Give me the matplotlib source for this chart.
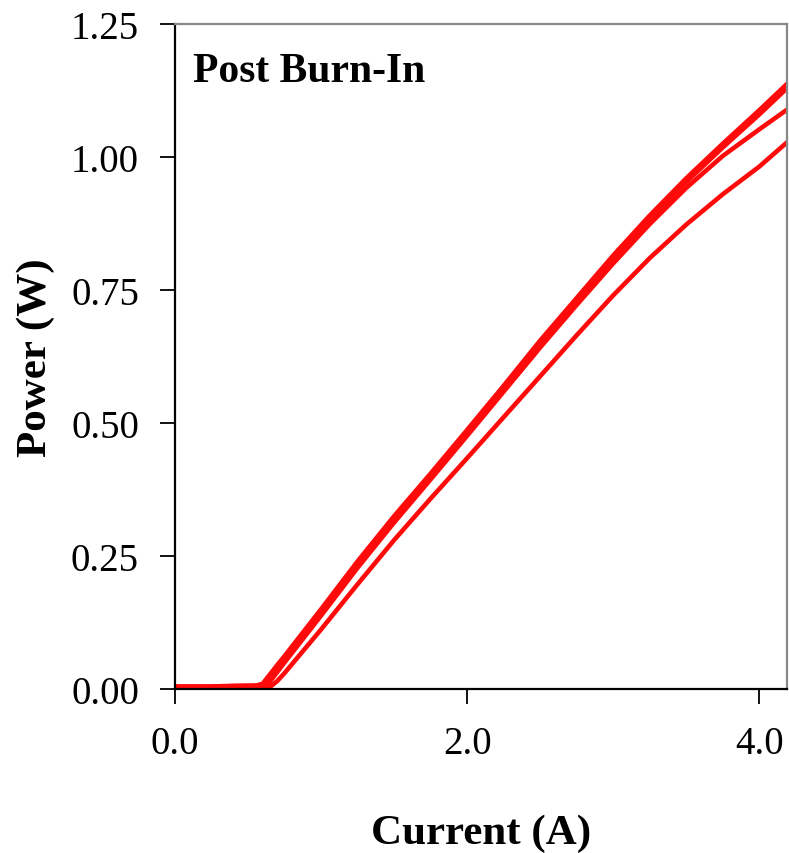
import matplotlib.pyplot as plt
import numpy as np

plt.rcParams['font.family'] = ['Liberation Serif', 'DejaVu Serif']

# L-I curves after burn-in (current in A, optical power in W)
current_a = [0.0, 0.25, 0.55, 0.60, 0.70, 0.75, 1.0, 1.25, 1.5, 1.75, 2.0, 2.25,
             2.5, 2.75, 3.0, 3.25, 3.5, 3.75, 4.0, 4.2]
power_a = [0.005, 0.005, 0.006, 0.010, 0.045, 0.062, 0.150, 0.240, 0.325, 0.405,
           0.487, 0.570, 0.655, 0.735, 0.815, 0.890, 0.960, 1.025, 1.088, 1.140]

current_b = [0.25, 0.58, 0.63, 0.70, 0.75, 1.0, 1.25, 1.5, 1.75, 2.0, 2.25,
             2.5, 2.75, 3.0, 3.25, 3.5, 3.75, 4.0, 4.2]
power_b = [0.005, 0.006, 0.012, 0.038, 0.056, 0.142, 0.232, 0.317, 0.398,
           0.480, 0.563, 0.647, 0.728, 0.808, 0.883, 0.953, 1.018, 1.080, 1.132]

current_c = [0.25, 0.60, 0.65, 0.70, 0.75, 1.0, 1.25, 1.5, 1.75, 2.0, 2.25,
             2.5, 2.75, 3.0, 3.25, 3.5, 3.75, 4.0, 4.2]
power_c = [0.005, 0.006, 0.014, 0.032, 0.050, 0.138, 0.228, 0.313, 0.394,
           0.476, 0.559, 0.642, 0.722, 0.800, 0.874, 0.942, 1.002, 1.052, 1.091]

current_d = [0.25, 0.66, 0.70, 0.75, 1.0, 1.25, 1.5, 1.75, 2.0, 2.25, 2.5,
             2.75, 3.0, 3.25, 3.5, 3.75, 4.0, 4.2]
power_d = [0.005, 0.006, 0.015, 0.030, 0.112, 0.197, 0.280, 0.358, 0.434, 0.511,
           0.588, 0.665, 0.740, 0.810, 0.873, 0.930, 0.982, 1.030]

y_ticks = [0.0, 0.25, 0.50, 0.75, 1.00, 1.25]
x_ticks = [0.0, 2.0, 4.0]

fig = plt.figure(figsize=(7.89, 8.54), dpi=100)
ax = fig.add_axes([0.2218, 0.192, 0.7757, 0.7787])

for xs, ys in [(current_a, power_a), (current_b, power_b),
               (current_c, power_c), (current_d, power_d)]:
    ax.plot(xs, ys, color='#ff0a0a', lw=3.3, solid_capstyle='butt',
            solid_joinstyle='round')

ax.set_xlim(0, 4.19)
ax.set_ylim(0, 1.25)
ax.set_yticks(y_ticks)
ax.set_yticklabels([f'{v:.2f}' for v in y_ticks])
ax.set_xticks(x_ticks)
ax.set_xticklabels([f'{v:.1f}' for v in x_ticks])
ax.tick_params(direction='out', length=11, width=1.3, labelsize=28)
ax.tick_params(axis='x', pad=15)
ax.tick_params(axis='y', pad=15)

for side in ['left', 'bottom']:
    ax.spines[side].set_linewidth(1.6)
    ax.spines[side].set_color('black')
for side in ['top', 'right']:
    ax.spines[side].set_linewidth(1.6)
    ax.spines[side].set_color('#888888')

ax.text(0.03, 0.958, 'Post Burn-In', transform=ax.transAxes, fontsize=30,
        fontweight='bold', va='top', ha='left')

ax.set_xlabel('Current (A)', fontsize=31, fontweight='bold', labelpad=37)
ax.set_ylabel('Power (W)', fontsize=31, fontweight='bold', labelpad=11)

fig.savefig('out.png', dpi=100)
